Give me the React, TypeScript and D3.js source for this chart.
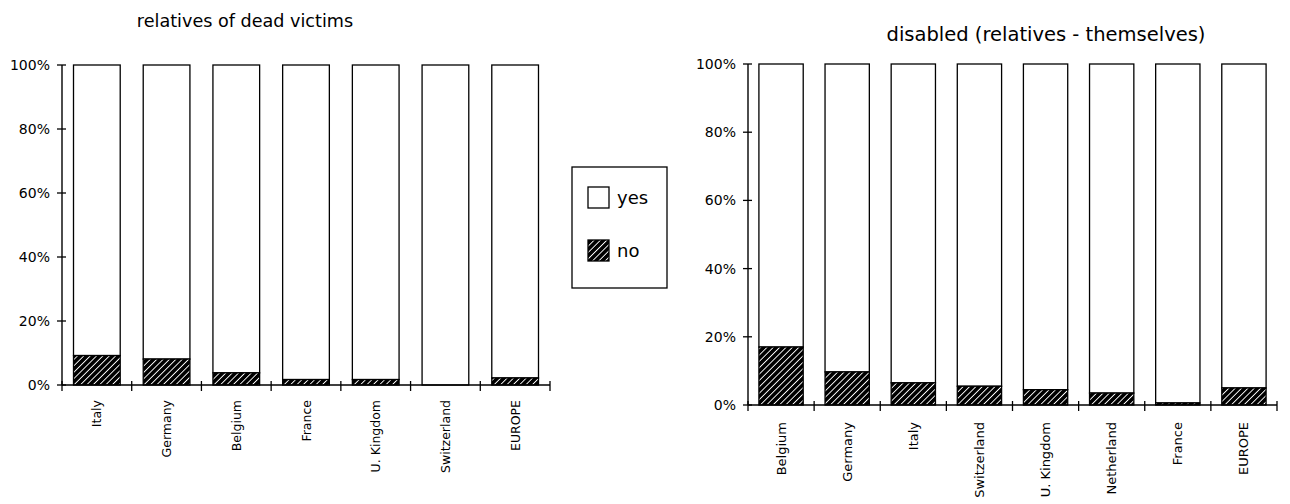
import React from "react";
import * as d3 from "d3";

const leftTitle = "relatives of dead victims";
const leftCategories = ["Italy", "Germany", "Belgium", "France", "U. Kingdom", "Switzerland", "EUROPE"];
const leftNo = [9.2, 8.1, 3.8, 1.7, 1.7, 0, 2.2];

const rightTitle = "disabled (relatives - themselves)";
const rightCategories = ["Belgium", "Germany", "Italy", "Switzerland", "U. Kingdom", "Netherland", "France", "EUROPE"];
const rightNo = [17, 9.7, 6.5, 5.5, 4.5, 3.5, 0.6, 5];

const yTicks = [0, 20, 40, 60, 80, 100];
const legendItems = ["yes", "no"];

const FONT = "'DejaVu Sans', Verdana, sans-serif";

type PanelProps = {
  title: string;
  cats: string[];
  no: number[];
  x0: number;
  x1: number;
  yTop: number;
  yBot: number;
  titleX: number;
  titleY: number;
  titleSize: number;
  labelGap: number;
  labelSize: number;
};

function Panel({ title, cats, no, x0, x1, yTop, yBot, titleX, titleY, titleSize, labelGap, labelSize }: PanelProps) {
  const x = d3.scaleBand<string>().domain(cats).range([x0, x1]).paddingInner(0.33).paddingOuter(0.165);
  const y = d3.scaleLinear().domain([0, 100]).range([yBot, yTop]);
  const boundaries = d3.range(cats.length + 1).map((i) => x0 + i * ((x1 - x0) / cats.length));
  return (
    <g>
      <text x={titleX} y={titleY} textAnchor="middle" fontFamily={FONT} fontSize={titleSize} fill="#000">
        {title}
      </text>
      {cats.map((c, i) => (
        <g key={c}>
          <rect
            x={x(c)!}
            y={y(100)}
            width={x.bandwidth()}
            height={y(no[i]) - y(100)}
            fill="#fff"
            stroke="#000"
            strokeWidth={1.3}
          />
          {no[i] > 0 && (
            <rect
              x={x(c)!}
              y={y(no[i])}
              width={x.bandwidth()}
              height={y(0) - y(no[i])}
              fill="url(#hatch)"
              stroke="#000"
              strokeWidth={1.3}
            />
          )}
          <text
            transform={`translate(${x(c)! + x.bandwidth() / 2 + 4.5},${yBot + labelGap}) rotate(-90)`}
            textAnchor="end"
            fontFamily={FONT}
            fontSize={labelSize}
            fill="#000"
          >
            {c}
          </text>
        </g>
      ))}
      <line x1={x0} x2={x0} y1={yTop} y2={yBot} stroke="#000" strokeWidth={1.4} />
      <line x1={x0} x2={x1} y1={yBot} y2={yBot} stroke="#000" strokeWidth={1.4} />
      {yTicks.map((t) => (
        <g key={t}>
          <line x1={x0 - 5} x2={x0 + 4} y1={y(t)} y2={y(t)} stroke="#000" strokeWidth={1.3} />
          <text x={x0 - 12} y={y(t)} dy="0.35em" textAnchor="end" fontFamily={FONT} fontSize={14} fill="#000">
            {t}%
          </text>
        </g>
      ))}
      {boundaries.map((b, i) => (
        <line key={i} x1={b} x2={b} y1={yBot - 4} y2={yBot + 6} stroke="#000" strokeWidth={1.3} />
      ))}
    </g>
  );
}

export default function App() {
  return (
    <svg
      width={1290}
      height={504}
      viewBox="0 0 1290 504"
      style={{ position: "absolute", left: 0, top: 0, background: "#fff" }}
    >
      <defs>
        <pattern id="hatch" patternUnits="userSpaceOnUse" width={4.5} height={4.5} patternTransform="rotate(45)">
          <rect width={4.5} height={4.5} fill="#000" />
          <line x1={0} y1={0} x2={0} y2={4.5} stroke="#fff" strokeWidth={1.8} />
        </pattern>
      </defs>
      <Panel
        title={leftTitle}
        cats={leftCategories}
        no={leftNo}
        x0={62}
        x1={550}
        yTop={65}
        yBot={385}
        titleX={245}
        titleY={27}
        titleSize={17.6}
        labelGap={15}
        labelSize={12.5}
      />
      <Panel
        title={rightTitle}
        cats={rightCategories}
        no={rightNo}
        x0={748}
        x1={1277}
        yTop={64}
        yBot={405}
        titleX={1046}
        titleY={41}
        titleSize={19.5}
        labelGap={17}
        labelSize={13}
      />
      <rect x={572} y={167} width={95} height={121} fill="#fff" stroke="#000" strokeWidth={1.3} />
      {legendItems.map((l, i) => (
        <g key={l}>
          <rect
            x={588}
            y={187 + i * 53}
            width={21}
            height={21}
            fill={i === 0 ? "#fff" : "url(#hatch)"}
            stroke="#000"
            strokeWidth={1.3}
          />
          <text x={617} y={198 + i * 53} dy="0.35em" fontFamily={FONT} fontSize={18} fill="#000">
            {l}
          </text>
        </g>
      ))}
    </svg>
  );
}
